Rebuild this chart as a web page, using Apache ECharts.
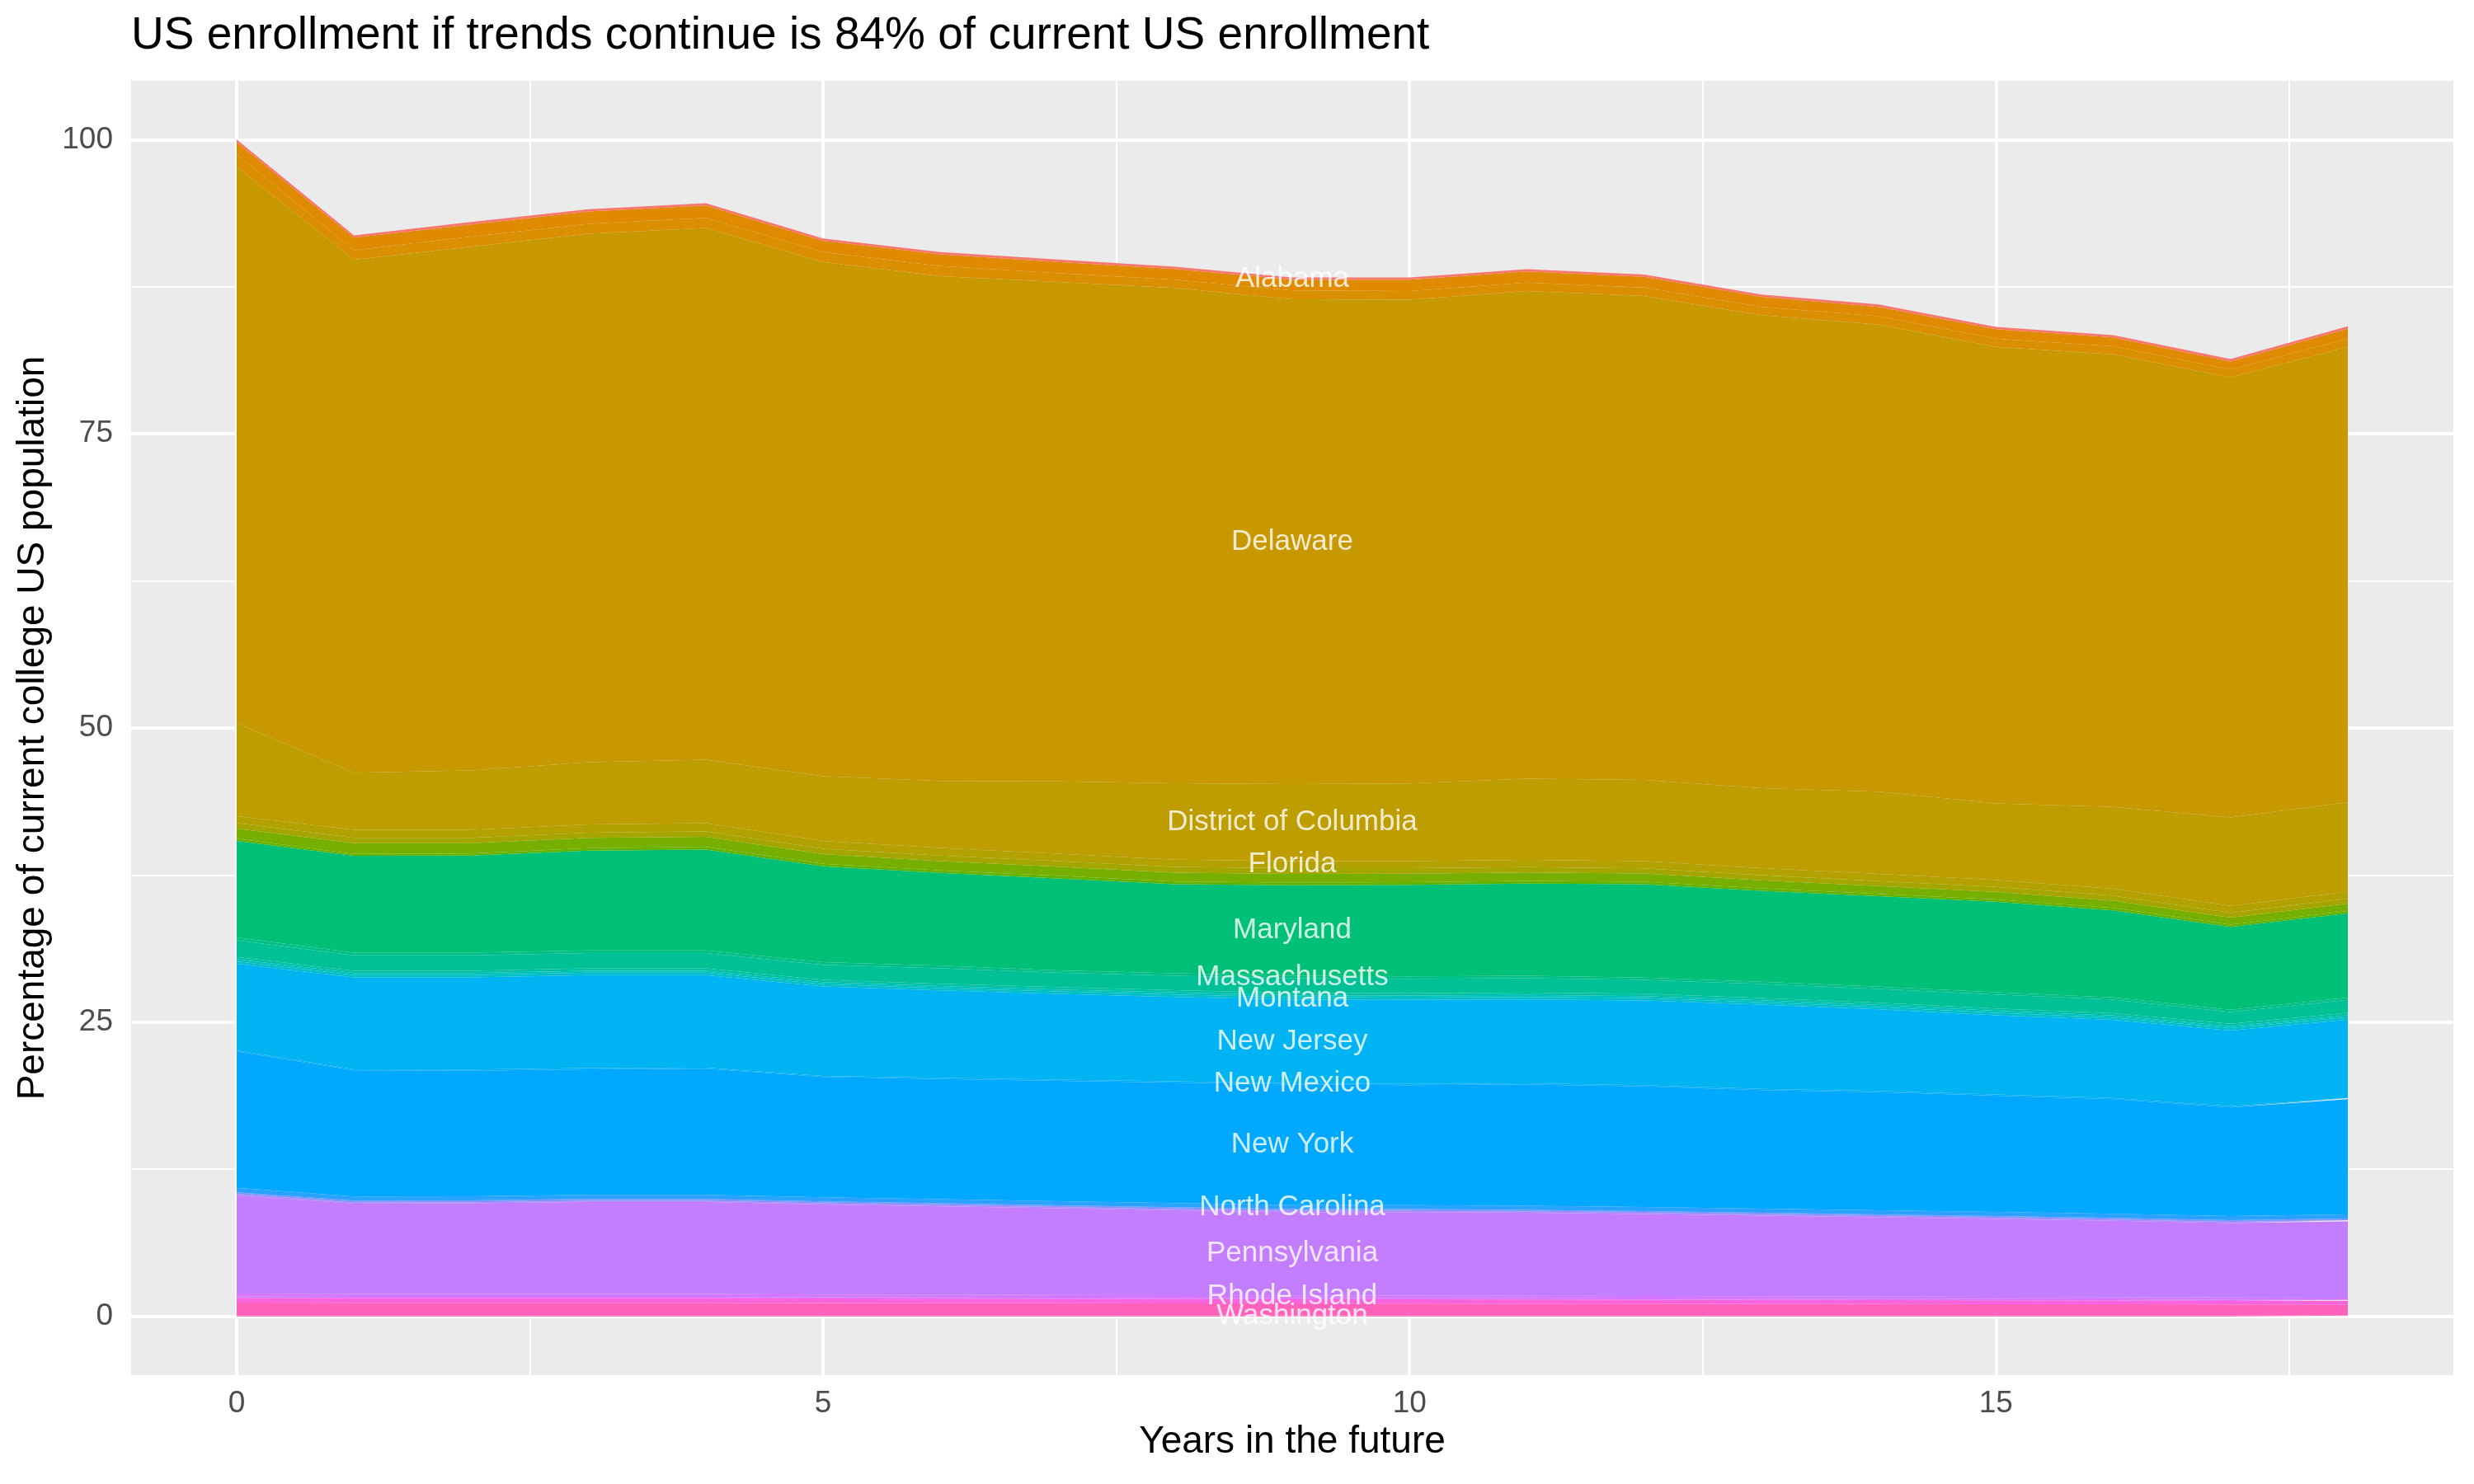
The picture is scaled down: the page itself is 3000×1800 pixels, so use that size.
<!DOCTYPE html>
<html>
<head>
<meta charset="utf-8">
<script src="https://cdn.jsdelivr.net/npm/echarts@6/dist/echarts.min.js"></script>
<style>
  html, body { margin: 0; padding: 0; background: #ffffff; }
  #chart { width: 3000px; height: 1800px; }
</style>
</head>
<body>
<div id="chart"></div>
<script>
// years ahead
const years = [0, 1, 2, 3, 4, 5, 6, 7, 8, 9, 10, 11, 12, 13, 14, 15, 16, 17, 18];

// every level of the state factor (sets the colour wheel)
const states = ['Alabama', 'Alaska', 'Arizona', 'Arkansas', 'California', 'Colorado', 'Connecticut',
  'Delaware', 'District of Columbia', 'Florida', 'Georgia', 'Hawaii', 'Idaho', 'Illinois', 'Indiana',
  'Iowa', 'Kansas', 'Kentucky', 'Louisiana', 'Maine', 'Maryland', 'Massachusetts', 'Michigan',
  'Minnesota', 'Mississippi', 'Missouri', 'Montana', 'Nebraska', 'Nevada', 'New Hampshire',
  'New Jersey', 'New Mexico', 'New York', 'North Carolina', 'North Dakota', 'Ohio', 'Oklahoma',
  'Oregon', 'Pennsylvania', 'Rhode Island', 'South Carolina', 'South Dakota', 'Tennessee', 'Texas',
  'Utah', 'Vermont', 'Virginia', 'Washington', 'West Virginia', 'Wisconsin', 'Wyoming'];

// percentage of current college population, per state, by year
const alabama = [0.20, 0.20, 0.20, 0.20, 0.20, 0.20, 0.20, 0.20, 0.20, 0.20, 0.20, 0.20, 0.20, 0.20, 0.20, 0.20, 0.20, 0.20, 0.20];
const california = [1.04, 1.07, 1.05, 1.04, 1.05, 0.95, 1.00, 0.95, 0.90, 0.90, 0.95, 0.93, 0.90, 0.85, 0.80, 0.80, 0.75, 0.69, 0.84];
const colorado = [1.06, 0.80, 0.85, 0.85, 0.85, 0.85, 0.85, 0.75, 0.70, 0.75, 0.75, 0.72, 0.72, 0.70, 0.72, 0.70, 0.69, 0.67, 0.70];
const delaware = [47.3, 43.6, 44.5, 44.9, 45.2, 43.7, 42.9, 42.45, 42.1, 41.2, 41.1, 41.45, 41.13, 40.2, 39.68, 38.8, 38.46, 37.4, 38.7];
const districtOfColumbia = [7.9, 4.85, 5.05, 5.3, 5.4, 5.5, 5.7, 6.15, 6.5, 6.55, 6.6, 6.9, 6.9, 6.8, 7.0, 6.5, 6.95, 7.5, 7.6];
const florida = [0.57, 0.68, 0.68, 0.69, 0.70, 0.66, 0.64, 0.62, 0.61, 0.60, 0.60, 0.61, 0.61, 0.60, 0.60, 0.60, 0.60, 0.60, 0.60];
const georgia = [0.47, 0.47, 0.46, 0.45, 0.44, 0.46, 0.47, 0.48, 0.49, 0.50, 0.48, 0.46, 0.45, 0.44, 0.43, 0.42, 0.42, 0.40, 0.42];
const illinois = [0.86, 0.90, 0.88, 0.87, 0.86, 0.82, 0.79, 0.77, 0.75, 0.73, 0.72, 0.72, 0.70, 0.68, 0.66, 0.64, 0.62, 0.60, 0.62];
const indiana = [0.20, 0.16, 0.18, 0.22, 0.24, 0.22, 0.22, 0.22, 0.23, 0.23, 0.22, 0.22, 0.21, 0.21, 0.20, 0.20, 0.20, 0.20, 0.20];
const maryland = [8.2, 8.24, 8.25, 8.47, 8.56, 8.14, 7.88, 7.81, 7.57, 7.68, 7.78, 7.83, 7.93, 7.72, 7.68, 7.68, 7.39, 7.03, 7.16];
const massachusetts = [0.24, 0.22, 0.22, 0.22, 0.22, 0.22, 0.22, 0.21, 0.21, 0.21, 0.21, 0.21, 0.20, 0.20, 0.20, 0.20, 0.20, 0.19, 0.19];
const michigan = [1.42, 1.31, 1.31, 1.31, 1.31, 1.28, 1.31, 1.22, 1.22, 1.25, 1.22, 1.23, 1.17, 1.18, 1.16, 1.19, 1.15, 1.01, 1.11];
const minnesota = [0.20, 0.20, 0.20, 0.20, 0.20, 0.20, 0.20, 0.20, 0.20, 0.20, 0.20, 0.20, 0.20, 0.20, 0.20, 0.20, 0.20, 0.20, 0.20];
const missouri = [0.17, 0.17, 0.17, 0.17, 0.17, 0.17, 0.17, 0.17, 0.17, 0.17, 0.17, 0.17, 0.17, 0.17, 0.17, 0.17, 0.17, 0.17, 0.17];
const montana = [0.20, 0.20, 0.20, 0.20, 0.20, 0.20, 0.20, 0.20, 0.20, 0.20, 0.20, 0.20, 0.20, 0.20, 0.20, 0.20, 0.20, 0.20, 0.20];
const newJersey = [7.37, 7.8, 7.83, 7.9, 7.86, 7.59, 7.43, 7.29, 7.18, 7.12, 7.14, 7.14, 7.21, 7.16, 6.94, 6.73, 6.63, 6.43, 6.66];
const newMexico = [0.10, 0.10, 0.10, 0.10, 0.10, 0.10, 0.10, 0.10, 0.10, 0.10, 0.10, 0.10, 0.10, 0.10, 0.10, 0.10, 0.10, 0.10, 0.10];
const newYork = [11.57, 10.72, 10.67, 10.68, 10.72, 10.23, 10.22, 10.23, 10.25, 10.25, 10.2, 10.31, 10.25, 10.08, 10.04, 9.89, 9.75, 9.24, 9.8];
const northCarolina = [0.39, 0.35, 0.35, 0.35, 0.35, 0.35, 0.35, 0.35, 0.35, 0.34, 0.34, 0.34, 0.34, 0.34, 0.34, 0.34, 0.34, 0.34, 0.34];
const ohio = [0.15, 0.15, 0.15, 0.15, 0.15, 0.15, 0.15, 0.15, 0.15, 0.15, 0.15, 0.15, 0.15, 0.15, 0.15, 0.15, 0.15, 0.15, 0.15];
const oregon = [0.11, 0.10, 0.10, 0.10, 0.10, 0.10, 0.10, 0.10, 0.10, 0.10, 0.10, 0.10, 0.10, 0.10, 0.10, 0.10, 0.10, 0.10, 0.10];
const pennsylvania = [8.34, 7.68, 7.7, 7.82, 7.82, 7.66, 7.52, 7.38, 7.22, 7.08, 7.1, 7.05, 6.98, 6.86, 6.74, 6.62, 6.48, 6.33, 6.48];
const rhodeIsland = [0.25, 0.24, 0.24, 0.24, 0.24, 0.23, 0.23, 0.23, 0.23, 0.22, 0.22, 0.22, 0.21, 0.21, 0.21, 0.20, 0.20, 0.20, 0.20];
const southCarolina = [0.12, 0.12, 0.12, 0.12, 0.12, 0.11, 0.11, 0.11, 0.11, 0.11, 0.10, 0.10, 0.10, 0.10, 0.10, 0.10, 0.10, 0.09, 0.09];
const texas = [0.40, 0.39, 0.39, 0.39, 0.39, 0.38, 0.37, 0.36, 0.36, 0.36, 0.36, 0.35, 0.34, 0.34, 0.33, 0.33, 0.32, 0.31, 0.30];
const virginia = [1.10, 1.08, 1.08, 1.08, 1.08, 1.06, 1.05, 1.04, 1.03, 1.02, 1.01, 1.01, 1.00, 0.98, 0.97, 0.96, 0.95, 0.93, 0.93];
const washington = [0.07, 0.07, 0.07, 0.07, 0.07, 0.07, 0.07, 0.07, 0.07, 0.07, 0.07, 0.07, 0.07, 0.07, 0.07, 0.07, 0.07, 0.07, 0.07];

// states carrying a text label, and the year the labels sit at
const labeledStates = ['Alabama', 'Delaware', 'District of Columbia', 'Florida', 'Maryland',
  'Massachusetts', 'Montana', 'New Jersey', 'New Mexico', 'New York', 'North Carolina',
  'Pennsylvania', 'Rhode Island', 'Washington'];
const labelYear = 9;

// axis breaks
const xMajor = [0, 5, 10, 15];
const xMinor = [2.5, 7.5, 12.5, 17.5];
const yMajor = [0, 25, 50, 75, 100];
const yMinor = [12.5, 37.5, 62.5, 87.5];

const title = 'US enrollment if trends continue is 84% of current US enrollment';

// alphabetical, top of the stack first
const drawn = [
  ['Alabama', alabama], ['California', california], ['Colorado', colorado],
  ['Delaware', delaware], ['District of Columbia', districtOfColumbia], ['Florida', florida],
  ['Georgia', georgia], ['Illinois', illinois], ['Indiana', indiana], ['Maryland', maryland],
  ['Massachusetts', massachusetts], ['Michigan', michigan], ['Minnesota', minnesota],
  ['Missouri', missouri], ['Montana', montana], ['New Jersey', newJersey],
  ['New Mexico', newMexico], ['New York', newYork], ['North Carolina', northCarolina],
  ['Ohio', ohio], ['Oregon', oregon], ['Pennsylvania', pennsylvania],
  ['Rhode Island', rhodeIsland], ['South Carolina', southCarolina], ['Texas', texas],
  ['Virginia', virginia], ['Washington', washington]
];

// ggplot default hue palette: hcl(h, c = 100, l = 65)
function hcl2hex(h, c, l) {
  const WHITE_Y = 100.0, WHITE_u = 0.1978398, WHITE_v = 0.4683363;
  const hr = h * Math.PI / 180;
  const U = c * Math.cos(hr), V = c * Math.sin(hr);
  const Y = l > 7.999592 ? WHITE_Y * Math.pow((l + 16) / 116, 3) : WHITE_Y * l / 903.3;
  const u = U / (13 * l) + WHITE_u;
  const v = V / (13 * l) + WHITE_v;
  const X = 9.0 * Y * u / (4 * v);
  const Z = -X / 3 - 5 * Y + 3 * Y / v;
  const gam = t => t > 0.00304 ? 1.055 * Math.pow(t, 1 / 2.4) - 0.055 : 12.92 * t;
  const rgb = [
    gam((3.240479 * X - 1.537150 * Y - 0.498535 * Z) / WHITE_Y),
    gam((-0.969256 * X + 1.875992 * Y + 0.041556 * Z) / WHITE_Y),
    gam((0.055648 * X - 0.204043 * Y + 1.057311 * Z) / WHITE_Y)
  ];
  return '#' + rgb.map(x => {
    const n = Math.round(Math.min(1, Math.max(0, x)) * 255);
    return n.toString(16).padStart(2, '0');
  }).join('');
}
const palette = {};
states.forEach((s, i) => { palette[s] = hcl2hex(15 + i * 360 / states.length, 100, 65); });

const FONT = 'Liberation Sans, Arial, Helvetica, sans-serif';

// echarts stacks the first series at the bottom
const stackOrder = drawn.slice().reverse();

// value goes in the first column so that echarts stacks it (not the year)
const areaSeries = stackOrder.map(([name, vals]) => ({
  name,
  type: 'line',
  stack: 'all',
  data: years.map((yr, i) => [vals[i], yr]),
  encode: { x: 1, y: 0 },
  symbol: 'none',
  showSymbol: false,
  lineStyle: { width: 0 },
  areaStyle: { color: palette[name], opacity: 1 },
  itemStyle: { color: palette[name] },
  emphasis: { disabled: true },
  z: 2
}));

// label positions: middle of each band at labelYear
const labelData = [];
let cum = 0;
const idx = years.indexOf(labelYear);
stackOrder.forEach(([name, vals]) => {
  const v = vals[idx];
  if (labeledStates.includes(name)) {
    labelData.push({ name, value: [labelYear, cum + v / 2] });
  }
  cum += v;
});

const gridLines = {
  name: 'grid',
  type: 'line',
  data: [],
  silent: true,
  markLine: {
    z: 1,
    silent: true,
    symbol: ['none', 'none'],
    label: { show: false },
    emphasis: { disabled: true },
    animation: false,
    data: [
      ...xMinor.map(v => ({ xAxis: v, lineStyle: { color: '#ffffff', width: 2, type: 'solid' } })),
      ...yMinor.map(v => ({ yAxis: v, lineStyle: { color: '#ffffff', width: 2, type: 'solid' } })),
      ...xMajor.map(v => ({ xAxis: v, lineStyle: { color: '#ffffff', width: 4, type: 'solid' } })),
      ...yMajor.map(v => ({ yAxis: v, lineStyle: { color: '#ffffff', width: 4, type: 'solid' } }))
    ]
  }
};

const labelSeries = {
  name: 'labels',
  type: 'scatter',
  data: labelData,
  symbolSize: 0,
  silent: true,
  z: 5,
  label: {
    show: true,
    position: 'inside',
    formatter: p => p.name,
    color: '#ffffff',
    textBorderWidth: 0,
    textShadowBlur: 0,
    fontSize: 35,
    fontFamily: FONT,
    align: 'center',
    verticalAlign: 'middle'
  }
};

const chart = echarts.init(document.getElementById('chart'), null, { renderer: 'canvas' });
chart.setOption({
  animation: false,
  backgroundColor: '#ffffff',
  title: {
    text: title,
    left: 159,
    top: 16,
    padding: 0,
    textStyle: { fontSize: 55, fontWeight: 'normal', color: '#000000', fontFamily: FONT }
  },
  grid: {
    left: 159, right: 25, top: 98, bottom: 132,
    show: true, backgroundColor: '#EBEBEB', borderWidth: 0
  },
  xAxis: {
    type: 'value',
    min: -0.9,
    max: 18.9,
    name: 'Years in the future',
    nameLocation: 'middle',
    nameGap: 58,
    nameTextStyle: { fontSize: 46, color: '#000000', fontFamily: FONT },
    axisLine: { show: false },
    axisTick: { show: true, customValues: xMajor, length: 12, lineStyle: { color: '#333333', width: 2.5 } },
    axisLabel: { customValues: xMajor, fontSize: 37, color: '#4D4D4D', margin: 16, fontFamily: FONT },
    splitLine: { show: false }
  },
  yAxis: {
    type: 'value',
    min: -5,
    max: 105,
    name: 'Percentage of current college US population',
    nameLocation: 'middle',
    nameGap: 96,
    nameTextStyle: { fontSize: 46, color: '#000000', fontFamily: FONT },
    axisLine: { show: false },
    axisTick: { show: true, customValues: yMajor, length: 12, lineStyle: { color: '#333333', width: 2.5 } },
    axisLabel: { customValues: yMajor, fontSize: 37, color: '#4D4D4D', margin: 22, fontFamily: FONT },
    splitLine: { show: false }
  },
  series: [gridLines, ...areaSeries, labelSeries]
});
</script>
</body>
</html>
